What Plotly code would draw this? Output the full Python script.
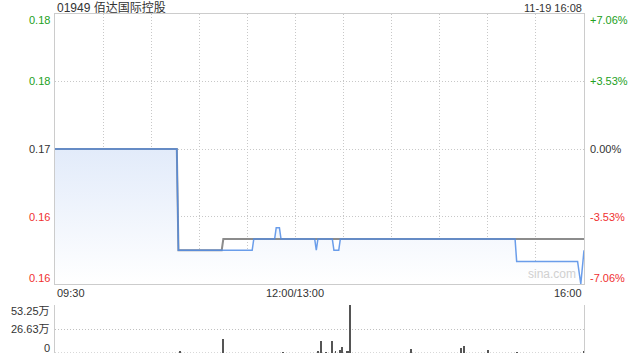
import plotly.graph_objects as go

# ---------------- data ----------------
title_text = "01949 佰达国际控股"
stamp_text = "11-19 16:08"
prev_close = 0.17

price_times = ["09:30", "10:46", "10:47", "11:33", "11:34", "11:47", "11:48", "11:50", "11:51",
               "13:12", "13:13", "13:14", "13:23", "13:24", "13:27", "13:28",
               "15:17", "15:18", "15:56", "15:58", "16:00"]
price_vals = [0.170, 0.170, 0.161, 0.161, 0.162, 0.162, 0.163, 0.163, 0.162,
              0.162, 0.161, 0.162, 0.162, 0.161, 0.161, 0.162,
              0.162, 0.160, 0.160, 0.158, 0.161]

avg_times = ["09:30", "10:46", "10:47", "11:14", "11:15", "16:00"]
avg_vals = [0.170, 0.170, 0.161, 0.161, 0.162, 0.162]

vol_times = ["10:48", "11:15", "11:52", "13:14", "13:16", "13:19", "13:23", "13:25", "13:28",
             "13:29", "13:32", "13:33", "13:34", "14:12", "14:43", "14:45", "15:00", "15:18", "16:00"]
vol_vals = [2.5, 16.0, 1.0, 2.0, 13.6, 1.0, 13.6, 1.5, 3.0,
            7.0, 2.0, 2.0, 53.25, 4.0, 5.0, 7.4, 2.8, 1.0, 1.5]  # 万

left_labels = ["0.18", "0.18", "0.17", "0.16", "0.16"]
right_labels = ["+7.06%", "+3.53%", "0.00%", "-3.53%", "-7.06%"]
label_colors = ["#22a022", "#22a022", "#333333", "#f03030", "#f03030"]
pct_levels = [0.0706, 0.0353, 0.0, -0.0353, -0.0706]
vol_labels = ["53.25万", "26.63万", "0"]
vol_levels = [53.25, 26.63, 0]
x_labels = ["09:30", "12:00/13:00", "16:00"]


def t2i(s):
    h, m = map(int, s.split(":"))
    mins = h * 60 + m
    if mins <= 720:
        return mins - 570
    return mins - 780 + 150


px = [t2i(t) for t in price_times]
ax_ = [t2i(t) for t in avg_times]
vx = [t2i(t) for t in vol_times]

ymin, ymax = 0.158, 0.182

FONT = "Liberation Sans, Arial, Noto Sans CJK SC, sans-serif"
DOT = "1px,2px"

fig = go.Figure()

# fill under price
fig.add_trace(go.Scatter(
    x=px, y=price_vals, mode="lines", line=dict(width=0),
    fill="tozeroy",
    fillgradient=dict(type="vertical", start=ymin, stop=0.170,
                      colorscale=[[0, "rgba(255,255,255,1)"], [1, "rgba(226,235,250,1)"]]),
    xaxis="x", yaxis="y", hoverinfo="skip", showlegend=False))

# avg line
fig.add_trace(go.Scatter(x=ax_, y=avg_vals, mode="lines",
                         line=dict(color="#8c8c8c", width=2),
                         xaxis="x", yaxis="y", showlegend=False))
# price line
fig.add_trace(go.Scatter(x=px, y=price_vals, mode="lines",
                         line=dict(color="rgba(80,140,230,0.85)", width=1.5),
                         xaxis="x", yaxis="y", showlegend=False))

# volume bars
fig.add_trace(go.Bar(x=vx, y=vol_vals, width=0.55, marker=dict(color="#555555", line=dict(width=0)),
                     xaxis="x2", yaxis="y2", showlegend=False))

H_T, H_B, H = 14, 7, 360
ph = H - H_T - H_B


def py(pix):
    return (H - H_B - pix) / ph


fig.update_layout(
    width=640, height=360,
    margin=dict(l=55, r=56, t=H_T, b=H_B),
    paper_bgcolor="white", plot_bgcolor="white",
    bargap=0,
    xaxis=dict(domain=[0, 1], range=[0, 330], tickvals=list(range(0, 331, 30)),
               showticklabels=False, showgrid=True, gridcolor="#c8c8c8", griddash=DOT,
               gridwidth=1, zeroline=False, showline=True, mirror=True, linecolor="#cccccc",
               ticks=""),
    yaxis=dict(domain=[py(284), 1], range=[ymin, ymax],
               tickvals=[0.164, 0.170, 0.176], showticklabels=False,
               showgrid=True, gridcolor="#c8c8c8", griddash=DOT, zeroline=False,
               showline=True, mirror=True, linecolor="#cccccc", ticks=""),
    xaxis2=dict(domain=[0, 1], range=[0, 330], anchor="y2", showticklabels=False,
                showgrid=False, zeroline=False, showline=False, ticks=""),
    yaxis2=dict(domain=[0, py(305)], range=[0, 53.25], anchor="x2",
                tickvals=[0, 26.63, 53.25], showticklabels=False,
                showgrid=True, gridcolor="#c0c0c0", griddash=DOT, zeroline=False,
                showline=True, mirror=True, linecolor="#cccccc", ticks=""),
    font=dict(family=FONT, size=11, color="#333333"),
)

# dotted baseline of volume panel
fig.add_shape(type="line", xref="x2 domain", yref="y2", x0=0, x1=1, y0=0, y1=0,
              line=dict(color="#b0b0b0", width=1, dash=DOT), layer="below")

ann = []
ann.append(dict(text=title_text, x=0, y=py(8), xref="paper", yref="paper",
                xanchor="left", yanchor="middle", showarrow=False,
                font=dict(size=12, color="#333333", family=FONT)))
ann.append(dict(text=stamp_text, x=1, y=py(8), xref="paper", yref="paper",
                xanchor="right", yanchor="middle", showarrow=False,
                font=dict(size=11, color="#333333", family=FONT)))

shifts = [-6, 0, 0, 0, 6]
for lab, rlab, col, pct, sh in zip(left_labels, right_labels, label_colors, pct_levels, shifts):
    yv = prev_close * (1 + pct)
    yv = min(max(yv, ymin), ymax)
    ann.append(dict(text=lab, x=0, y=yv, xref="paper", yref="y", xanchor="right",
                    yanchor="middle", xshift=-3, yshift=sh, showarrow=False,
                    font=dict(size=11, color=col, family=FONT)))
    ann.append(dict(text=rlab, x=1, y=yv, xref="paper", yref="y", xanchor="left",
                    yanchor="middle", xshift=4, yshift=sh, showarrow=False,
                    font=dict(size=11, color=col, family=FONT)))

ann.append(dict(text=x_labels[0], x=0, y=py(293), xref="paper", yref="paper", xanchor="left",
                yanchor="middle", showarrow=False, font=dict(size=11, color="#333333")))
ann.append(dict(text=x_labels[1], x=150, y=py(293), xref="x", yref="paper", xanchor="center",
                yanchor="middle", showarrow=False, font=dict(size=11, color="#333333")))
ann.append(dict(text=x_labels[2], x=1, y=py(293), xref="paper", yref="paper", xanchor="right",
                yanchor="middle", showarrow=False, font=dict(size=11, color="#333333")))

vshifts = [-6, 0, 5]
for lab, lv, sh in zip(vol_labels, vol_levels, vshifts):
    ann.append(dict(text=lab, x=0, y=lv, xref="paper", yref="y2", xanchor="right",
                    yanchor="middle", xshift=-3, yshift=sh, showarrow=False,
                    font=dict(size=11, color="#333333", family=FONT)))

ann.append(dict(text="sina.com", x=1, y=ymin, xref="paper", yref="y", xanchor="right",
                yanchor="bottom", xshift=-6, yshift=1, showarrow=False,
                font=dict(size=12, color="#d0d0d0", family=FONT)))

fig.update_layout(annotations=ann)

fig.write_html("out.html")
